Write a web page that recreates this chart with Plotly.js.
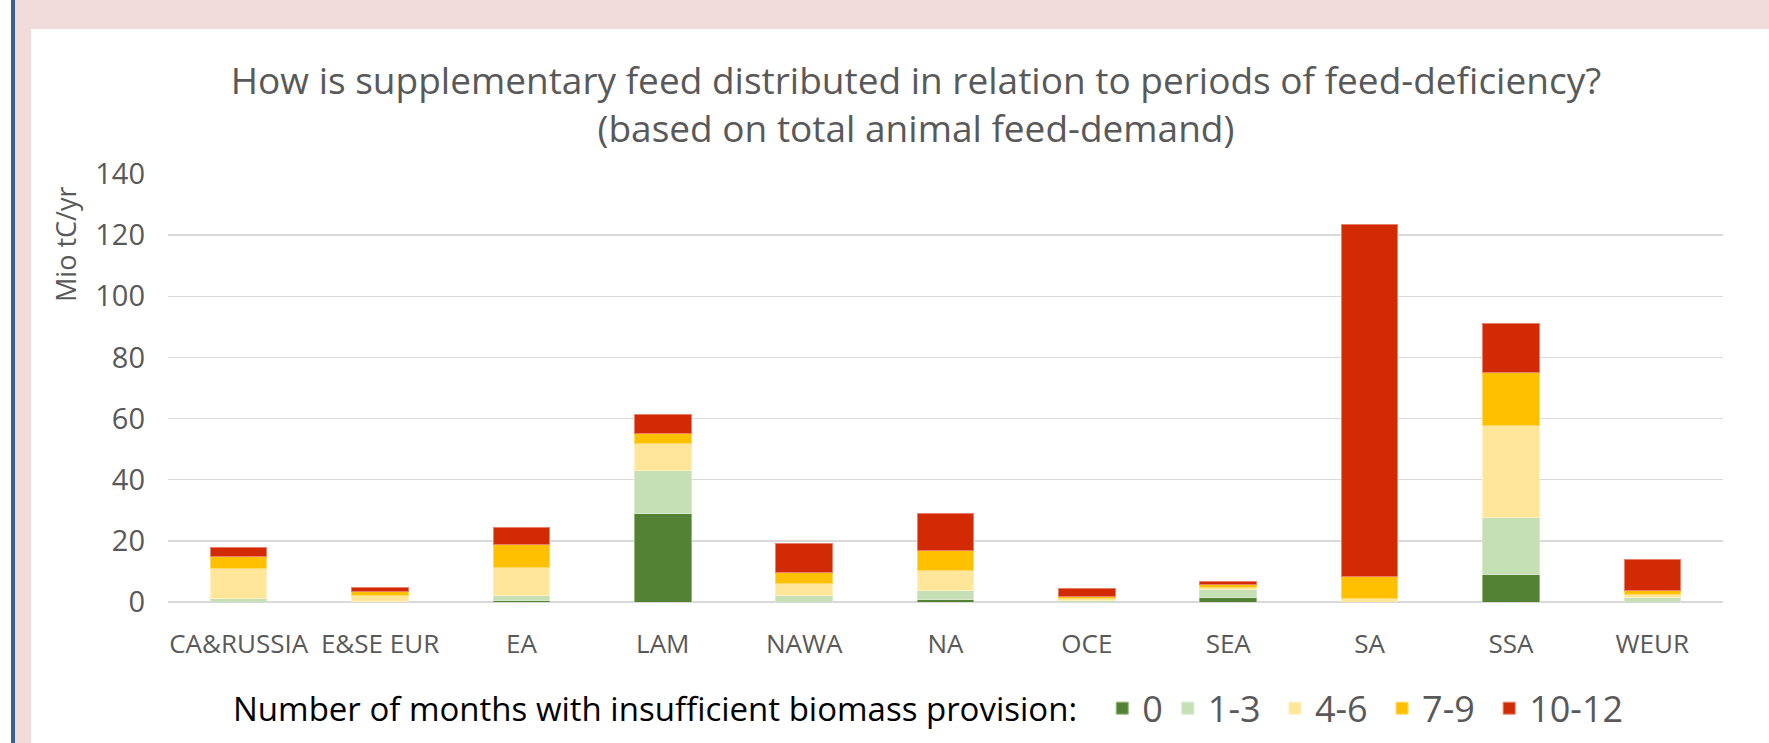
<!DOCTYPE html>
<html>
<head>
<meta charset="utf-8">
<script src="https://cdn.plot.ly/plotly-3.0.1.min.js"></script>
<style>
  html, body { margin: 0; padding: 0; width: 1769px; height: 743px; overflow: hidden; background: #ffffff; }
  #blue { position: absolute; left: 11px; top: 0; width: 4px; height: 743px; background: #3B6091; }
  #pinkLeft { position: absolute; left: 15px; top: 0; width: 16px; height: 743px; background: #F2DCDB; }
  #pinkTop { position: absolute; left: 15px; top: 0; width: 1754px; height: 29px; background: #F2DCDB; }
  #chart { position: absolute; left: 31px; top: 29px; width: 1738px; height: 714px; }
</style>
</head>
<body>
<div id="blue"></div>
<div id="pinkLeft"></div>
<div id="pinkTop"></div>
<div id="chart"></div>
<script>
const categories = ['CA&RUSSIA', 'E&SE EUR', 'EA', 'LAM', 'NAWA', 'NA', 'OCE', 'SEA', 'SA', 'SSA', 'WEUR'];
const seriesNames = ['0', '1-3', '4-6', '7-9', '10-12'];
const months0     = [0.0, 0.0, 0.5, 29.1, 0.0, 0.8, 0.0, 1.6, 0.0, 8.9, 0.0];
const months1to3  = [1.0, 0.3, 1.7, 14.0, 2.0, 2.8, 0.6, 2.4, 0.0, 18.9, 1.4];
const months4to6  = [9.9, 1.9, 9.2, 8.9, 4.1, 6.8, 0.7, 0.8, 1.0, 30.0, 1.1];
const months7to9  = [4.0, 1.3, 7.5, 3.0, 3.6, 6.3, 0.6, 0.9, 7.4, 17.3, 1.3];
const months10to12 = [2.9, 1.3, 5.6, 6.2, 9.3, 12.4, 2.4, 1.1, 115.0, 15.9, 10.1];
const yTickValues = [0, 20, 40, 60, 80, 100, 120, 140];

const seriesValues = [months0, months1to3, months4to6, months7to9, months10to12];
const colors = ['#548235', '#C5E0B4', '#FFE699', '#FFC000', '#D22A02'];
const edgeColors = ['#8DB872', '#D6EACB', '#FFF0C2', '#FFD966', '#E8806A'];
const legendPad = ['', '\u00a0', '\u00a0', '\u00a0', ''];

const FONT = 'Open Sans, sans-serif';

const traces = seriesValues.map((vals, i) => ({
  type: 'bar',
  name: seriesNames[i] + legendPad[i],
  x: categories,
  y: vals,
  marker: { color: colors[i], line: { color: edgeColors[i], width: 1 } },
  hoverinfo: 'skip'
}));

const layout = {
  width: 1738,
  height: 714,
  barmode: 'stack',
  bargap: 0.6,
  paper_bgcolor: '#ffffff',
  plot_bgcolor: '#ffffff',
  margin: { l: 137, r: 46, t: 144.5, b: 141.3, pad: 0, autoexpand: false },
  font: { family: FONT, color: '#595959' },
  title: {
    text: 'How is supplementary feed distributed in relation to periods of feed-deficiency?<br>(based on total animal feed-demand)',
    font: { family: FONT, size: 37, color: '#595959' },
    xref: 'container',
    x: 0.5092,
    xanchor: 'center',
    yref: 'container',
    y: 1 - 65 / 714,
    yanchor: 'top'
  },
  xaxis: {
    type: 'category',
    tickfont: { family: FONT, size: 26, color: '#595959' },
    ticks: '',
    ticklabelstandoff: 24,
    showgrid: false,
    showline: false,
    zeroline: false,
    fixedrange: true
  },
  yaxis: {
    range: [0, 140],
    tickvals: yTickValues,
    ticktext: yTickValues.map(String),
    tickfont: { family: FONT, size: 29, color: '#595959' },
    ticks: '',
    ticklabelstandoff: 22,
    showgrid: true,
    gridcolor: '#D9D9D9',
    gridwidth: 1.5,
    zeroline: true,
    zerolinecolor: '#D9D9D9',
    zerolinewidth: 1.5,
    showline: false,
    fixedrange: true
  },
  annotations: [{
    text: 'Mio tC/yr',
    textangle: -90,
    xref: 'paper',
    yref: 'paper',
    x: -(137 - 35) / 1555,
    y: (572.7 - (243.5 - 29)) / 428.2,
    xanchor: 'center',
    yanchor: 'middle',
    showarrow: false,
    font: { family: FONT, size: 27, color: '#595959' }
  }],
  showlegend: true,
  legend: {
    orientation: 'h',
    x: (200 - 137) / 1555,
    xanchor: 'left',
    y: -106.3 / 428.2,
    yanchor: 'middle',
    traceorder: 'normal',
    font: { family: FONT, size: 36, color: '#595959' },
    title: {
      text: 'Number of months with insufficient biomass provision:\u00a0\u00a0',
      side: 'left',
      font: { family: FONT, size: 33, color: '#000000' }
    },
    itemwidth: 30,
    bgcolor: 'rgba(0,0,0,0)'
  }
};

Plotly.newPlot('chart', traces, layout, { staticPlot: true, displayModeBar: false });
</script>
</body>
</html>
